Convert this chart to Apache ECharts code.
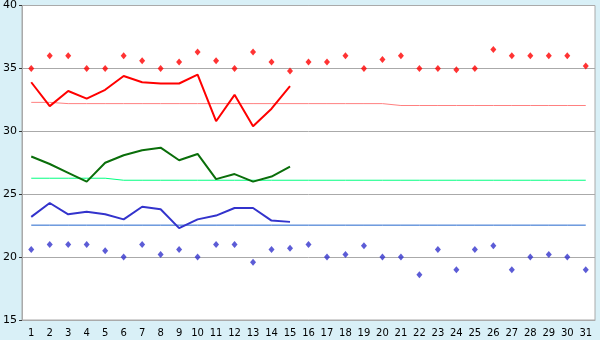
<!DOCTYPE html>
<html>
<head>
<meta charset="utf-8">
<script src="https://cdn.jsdelivr.net/npm/echarts@6/dist/echarts.min.js"></script>
<style>
html,body{margin:0;padding:0;background:#d9f0f7;}
#c{width:600px;height:340px;}
</style>
</head>
<body>
<div id="c"></div>
<script>
var days = ['1','2','3','4','5','6','7','8','9','10','11','12','13','14','15','16','17','18','19','20','21','22','23','24','25','26','27','28','29','30','31'];
var yTicks = {min: 15, max: 40, interval: 5};

var redPoints = [35,36,36,35,35,36,35.6,35,35.5,36.3,35.6,35,36.3,35.5,34.8,35.5,35.5,36,35,35.7,36,35,35,34.9,35,36.5,36,36,36,36,35.2];
var redLine = [33.9,32.0,33.2,32.6,33.3,34.4,33.9,33.8,33.8,34.5,30.8,32.9,30.4,31.8,33.6];
var redMean = [32.3,32.3,32.2,32.2,32.2,32.2,32.2,32.2,32.2,32.2,32.2,32.2,32.2,32.2,32.2,32.2,32.2,32.2,32.2,32.2,32.05,32.05,32.05,32.05,32.05,32.05,32.05,32.05,32.05,32.05,32.05];

var greenLine = [28.0,27.4,26.7,26.0,27.5,28.1,28.5,28.7,27.7,28.2,26.2,26.6,26.0,26.4,27.2];
var greenMean = [26.27,26.27,26.27,26.27,26.27,26.11,26.11,26.11,26.11,26.11,26.11,26.11,26.11,26.11,26.11,26.11,26.11,26.11,26.11,26.11,26.11,26.11,26.11,26.11,26.11,26.11,26.11,26.11,26.11,26.11,26.11];

var blueLine = [23.2,24.3,23.4,23.6,23.4,23.0,24.0,23.8,22.3,23.0,23.3,23.9,23.9,22.9,22.8];
var blueMean = [22.54,22.54,22.54,22.54,22.54,22.54,22.54,22.54,22.54,22.54,22.54,22.54,22.54,22.54,22.54,22.54,22.54,22.54,22.54,22.54,22.54,22.54,22.54,22.54,22.54,22.54,22.54,22.54,22.54,22.54,22.54];
var bluePoints = [20.6,21,21,21,20.5,20,21,20.2,20.6,20,21,21,19.6,20.6,20.7,21,20,20.2,20.9,20,20,18.6,20.6,19,20.6,20.9,19,20,20.2,20,19];

var chart = echarts.init(document.getElementById('c'), null, {renderer: 'canvas'});
var font = 'DejaVu Sans';
function lineSeries(data, color, width, z) {
  return {type: 'line', data: data, symbol: 'none', smooth: false, z: z,
    lineStyle: {color: color, width: width}, itemStyle: {color: color}, animation: false};
}
function pointSeries(data, color) {
  return {type: 'scatter', data: data, symbol: 'diamond', symbolSize: [6, 7], z: 5,
    itemStyle: {color: color}, animation: false};
}
chart.setOption({
  backgroundColor: '#d9f0f7',
  animation: false,
  grid: {left: 21, right: 5, top: 5, bottom: 20, show: true, backgroundColor: '#ffffff', borderColor: '#aaaaaa', borderWidth: 1},
  xAxis: {
    type: 'category', data: days, boundaryGap: true,
    axisLine: {lineStyle: {color: '#aaaaaa', width: 1}},
    axisTick: {alignWithLabel: true, length: 5, lineStyle: {color: '#333333'}},
    axisLabel: {color: '#000', fontFamily: font, fontSize: 10, margin: 8, interval: 0},
    splitLine: {show: false}
  },
  yAxis: {
    type: 'value', min: yTicks.min, max: yTicks.max, interval: yTicks.interval,
    axisLine: {show: true, lineStyle: {color: '#aaaaaa', width: 1}},
    axisTick: {show: true, length: 3, lineStyle: {color: '#333333'}},
    axisLabel: {color: '#000', fontFamily: font, fontSize: 11, margin: 5},
    splitLine: {show: true, lineStyle: {color: '#aaaaaa', width: 1}}
  },
  series: [
    lineSeries(redMean, '#ff8080', 1, 2),
    lineSeries(greenMean, '#00ff80', 1, 2),
    lineSeries(blueMean, '#2266cc', 1, 2),
    lineSeries(redLine, '#ff0000', 2, 3),
    lineSeries(greenLine, '#0a6e0a', 2, 3),
    lineSeries(blueLine, '#3333cc', 2, 3),
    pointSeries(redPoints, '#ff0000'),
    pointSeries(bluePoints, '#3333cc')
  ]
});
</script>
</body>
</html>
